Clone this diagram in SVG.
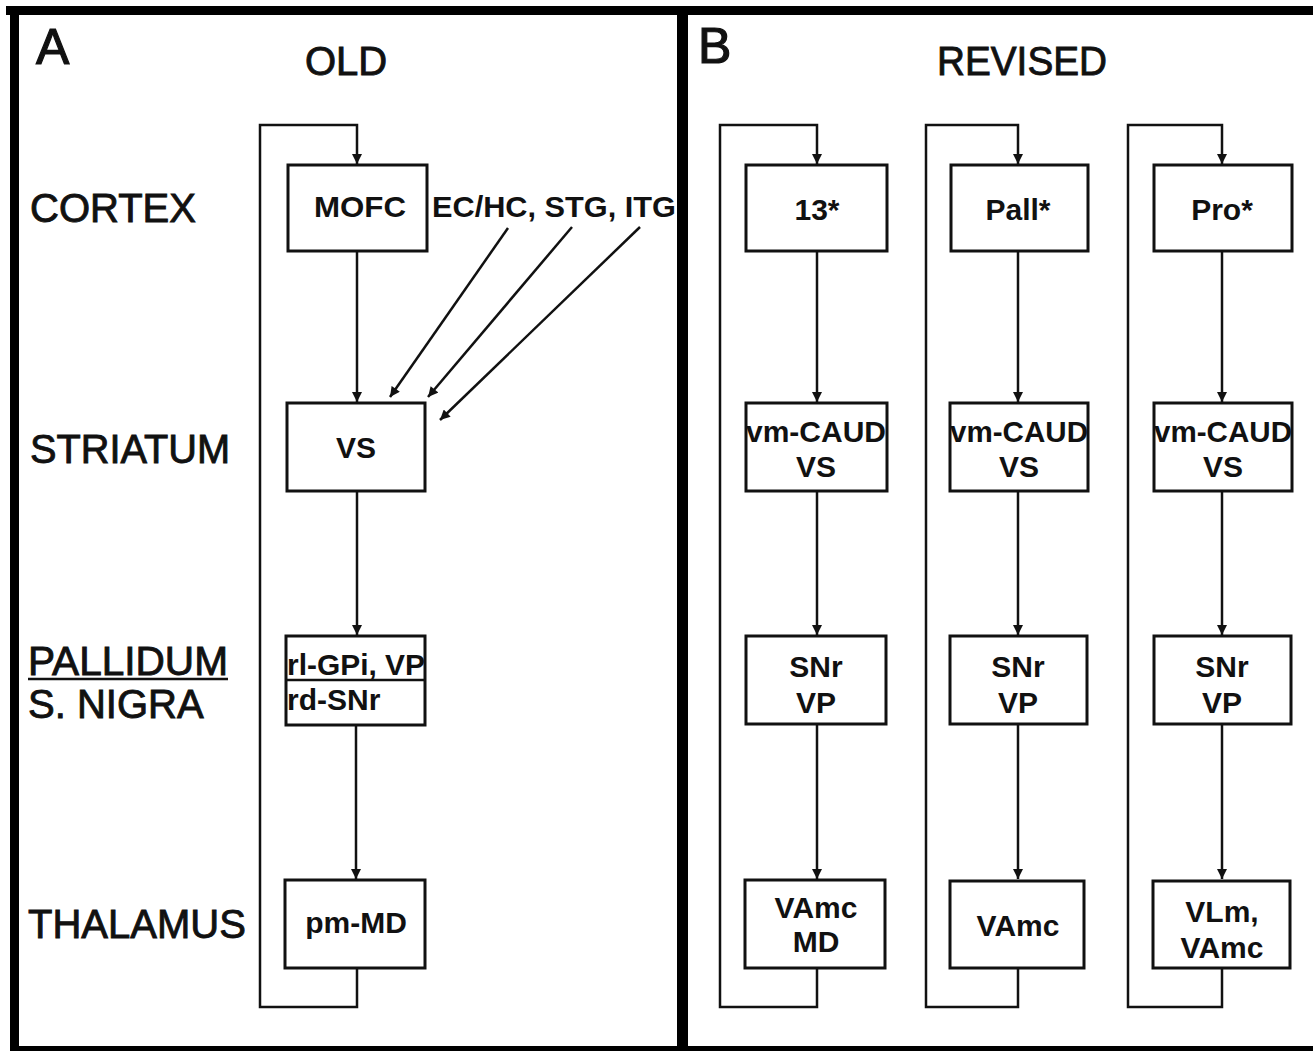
<svg xmlns="http://www.w3.org/2000/svg" width="1313" height="1053" viewBox="0 0 1313 1053">
<style>
.frame{fill:#000}
.box{fill:#fff;stroke:#111;stroke-width:3}
.ln{fill:none;stroke:#111;stroke-width:2.5}
.lbl{font-family:"Liberation Sans",Arial,sans-serif;font-size:40px;fill:#111;stroke:#111;stroke-width:0.9}
.ttl{font-family:"Liberation Sans",Arial,sans-serif;font-size:40px;fill:#111;stroke:#111;stroke-width:0.9}
.big{font-family:"Liberation Sans",Arial,sans-serif;font-size:50px;fill:#111;stroke:#111;stroke-width:1.2}
.bt{font-family:"Liberation Sans",Arial,sans-serif;font-size:30px;font-weight:bold;fill:#111;text-anchor:middle}
.bl{font-family:"Liberation Sans",Arial,sans-serif;font-size:30px;font-weight:bold;fill:#111}
</style>
<defs>
<marker id="ah" viewBox="0 0 10 10" refX="10" refY="5" markerWidth="11" markerHeight="10" markerUnits="userSpaceOnUse" orient="auto">
<path d="M0,0 L10,5 L0,10 z" fill="#111"/>
</marker>
</defs>
<rect width="1313" height="1053" fill="#fff"/>
<g id="frame">
<rect class="frame" x="6" y="6" width="1307" height="9"/>
<rect class="frame" x="10" y="6" width="9" height="1045"/>
<rect class="frame" x="10" y="1046" width="1303" height="5"/>
<rect class="frame" x="677" y="6" width="11" height="1045"/>
</g>
<g id="titles">
<text class="big" x="36" y="64">A</text>
<text class="ttl" x="346" y="75" text-anchor="middle">OLD</text>
<text class="big" x="698" y="63">B</text>
<text class="ttl" x="1022" y="75" text-anchor="middle" textLength="170" lengthAdjust="spacingAndGlyphs">REVISED</text>
</g>
<g id="row-labels">
<text class="lbl" x="30" y="222">CORTEX</text>
<text class="lbl" x="30" y="463" textLength="200" lengthAdjust="spacingAndGlyphs">STRIATUM</text>
<text class="lbl" x="28" y="675" textLength="200" lengthAdjust="spacingAndGlyphs">PALLIDUM</text>
<line x1="28" y1="679" x2="228" y2="679" stroke="#111" stroke-width="2.5"/>
<text class="lbl" x="28" y="718">S. NIGRA</text>
<text class="lbl" x="28" y="938">THALAMUS</text>
</g>
<g id="connectors">
<polyline class="ln" points="357,968 357,1007 260,1007 260,125 357,125 357,164" marker-end="url(#ah)"/>
<line class="ln" x1="357" y1="251" x2="357" y2="402" marker-end="url(#ah)"/>
<line class="ln" x1="508" y1="228" x2="390" y2="397" marker-end="url(#ah)"/>
<line class="ln" x1="572" y1="227" x2="428" y2="397" marker-end="url(#ah)"/>
<line class="ln" x1="640" y1="227" x2="440" y2="420" marker-end="url(#ah)"/>
<line class="ln" x1="357" y1="491" x2="357" y2="635" marker-end="url(#ah)"/>
<line class="ln" x1="356" y1="725" x2="356" y2="879" marker-end="url(#ah)"/>
<polyline class="ln" points="817,968 817,1007 720,1007 720,125 817,125 817,164" marker-end="url(#ah)"/>
<line class="ln" x1="817" y1="251" x2="817" y2="402" marker-end="url(#ah)"/>
<line class="ln" x1="817" y1="491" x2="817" y2="635" marker-end="url(#ah)"/>
<line class="ln" x1="817" y1="724" x2="817" y2="879" marker-end="url(#ah)"/>
<polyline class="ln" points="1018,968 1018,1007 926,1007 926,125 1018,125 1018,164" marker-end="url(#ah)"/>
<line class="ln" x1="1018" y1="251" x2="1018" y2="402" marker-end="url(#ah)"/>
<line class="ln" x1="1018" y1="491" x2="1018" y2="635" marker-end="url(#ah)"/>
<line class="ln" x1="1018" y1="724" x2="1018" y2="879" marker-end="url(#ah)"/>
<polyline class="ln" points="1222,968 1222,1007 1128,1007 1128,125 1222,125 1222,164" marker-end="url(#ah)"/>
<line class="ln" x1="1222" y1="251" x2="1222" y2="402" marker-end="url(#ah)"/>
<line class="ln" x1="1222" y1="491" x2="1222" y2="635" marker-end="url(#ah)"/>
<line class="ln" x1="1222" y1="724" x2="1222" y2="879" marker-end="url(#ah)"/>
</g>
<g id="ec-label">
<text class="bl" x="432" y="217" textLength="244" lengthAdjust="spacingAndGlyphs">EC/HC, STG, ITG</text>
</g>
<g id="node-mofc">
<rect class="box" x="288" y="165" width="139" height="86"/>
<text class="bt" x="360" y="217" textLength="92" lengthAdjust="spacingAndGlyphs">MOFC</text>
</g>
<g id="node-vs">
<rect class="box" x="287" y="403" width="138" height="88"/>
<text class="bt" x="356" y="458">VS</text>
</g>
<g id="node-gpi">
<rect class="box" x="286" y="636" width="139" height="89"/>
<line x1="286" y1="680" x2="425" y2="680" stroke="#111" stroke-width="2.5"/>
<text class="bl" x="287" y="675" textLength="138" lengthAdjust="spacingAndGlyphs">rl-GPi, VP</text>
<text class="bl" x="287" y="710">rd-SNr</text>
</g>
<g id="node-pmmd">
<rect class="box" x="285" y="880" width="140" height="88"/>
<text class="bt" x="356" y="933">pm-MD</text>
</g>
<g id="node-13">
<rect class="box" x="746" y="165" width="141" height="86"/>
<text class="bt" x="817" y="220">13*</text>
</g>
<g id="node-pall">
<rect class="box" x="951" y="165" width="137" height="86"/>
<text class="bt" x="1018" y="220">Pall*</text>
</g>
<g id="node-pro">
<rect class="box" x="1154" y="165" width="138" height="86"/>
<text class="bt" x="1222" y="220">Pro*</text>
</g>
<g id="node-caud1">
<rect class="box" x="746" y="403" width="141" height="88"/>
<text class="bt" x="816" y="442" textLength="140" lengthAdjust="spacingAndGlyphs">vm-CAUD</text>
<text class="bt" x="816" y="477">VS</text>
</g>
<g id="node-caud2">
<rect class="box" x="950" y="403" width="138" height="88"/>
<text class="bt" x="1019" y="442" textLength="138" lengthAdjust="spacingAndGlyphs">vm-CAUD</text>
<text class="bt" x="1019" y="477">VS</text>
</g>
<g id="node-caud3">
<rect class="box" x="1154" y="403" width="138" height="88"/>
<text class="bt" x="1223" y="442" textLength="138" lengthAdjust="spacingAndGlyphs">vm-CAUD</text>
<text class="bt" x="1223" y="477">VS</text>
</g>
<g id="node-snr1">
<rect class="box" x="746" y="636" width="140" height="88"/>
<text class="bt" x="816" y="677">SNr</text>
<text class="bt" x="816" y="713">VP</text>
</g>
<g id="node-snr2">
<rect class="box" x="950" y="636" width="137" height="88"/>
<text class="bt" x="1018" y="677">SNr</text>
<text class="bt" x="1018" y="713">VP</text>
</g>
<g id="node-snr3">
<rect class="box" x="1154" y="636" width="137" height="88"/>
<text class="bt" x="1222" y="677">SNr</text>
<text class="bt" x="1222" y="713">VP</text>
</g>
<g id="node-vamc-md">
<rect class="box" x="745" y="880" width="140" height="88"/>
<text class="bt" x="816" y="918">VAmc</text>
<text class="bt" x="816" y="952">MD</text>
</g>
<g id="node-vamc">
<rect class="box" x="950" y="881" width="134" height="87"/>
<text class="bt" x="1018" y="936">VAmc</text>
</g>
<g id="node-vlm">
<rect class="box" x="1153" y="881" width="137" height="87"/>
<text class="bt" x="1222" y="922">VLm,</text>
<text class="bt" x="1222" y="958">VAmc</text>
</g>
</svg>
